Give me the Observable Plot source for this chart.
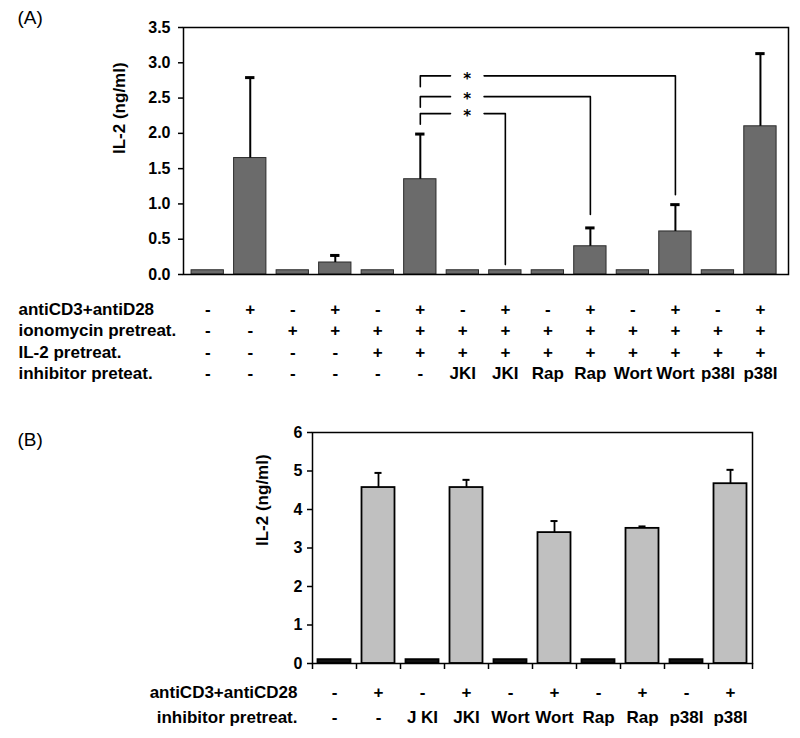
<!DOCTYPE html>
<html>
<head>
<meta charset="utf-8">
<script src="https://cdn.jsdelivr.net/npm/d3@7"></script>
<script src="https://cdn.jsdelivr.net/npm/@observablehq/plot@0.6"></script>
<style>
  html, body { margin: 0; padding: 0; background: #fff; }
  #chart svg { display: block; }
</style>
</head>
<body>
<div id="chart"></div>
<script>
// ---------- Panel A data ----------
const rowNamesA = ["antiCD3+antiD28", "ionomycin pretreat.", "IL-2 pretreat.", "inhibitor preteat."];
const antiCD3A = ["-","+","-","+","-","+","-","+","-","+","-","+","-","+"];
const ionoA    = ["-","-","+","+","+","+","+","+","+","+","+","+","+","+"];
const il2A     = ["-","-","-","-","+","+","+","+","+","+","+","+","+","+"];
const inhibA   = ["-","-","-","-","-","-","JKI","JKI","Rap","Rap","Wort","Wort","p38I","p38I"];
const valuesA  = [0.06, 1.65, 0.06, 0.17, 0.06, 1.35, 0.06, 0.06, 0.06, 0.40, 0.06, 0.61, 0.06, 2.10];
const errA     = [0, 1.14, 0, 0.10, 0, 0.64, 0, 0, 0, 0.26, 0, 0.38, 0, 1.03];
const yTicksA  = [0, 0.5, 1.0, 1.5, 2.0, 2.5, 3.0, 3.5];
// significance brackets (bar index from -> bar index to)
const sigFrom    = [5, 5, 5];
const sigTo      = [7, 9, 11];
const sigLevel   = [2.28, 2.52, 2.815];
const sigFromEnd = [2.13, 2.37, 2.66];
const sigToEnd   = [0.14, 0.85, 1.13];
const sigLabel   = ["*", "*", "*"];

// ---------- Panel B data ----------
const rowNamesB = ["antiCD3+antiCD28", "inhibitor pretreat."];
const antiCD3B = ["-","+","-","+","-","+","-","+","-","+"];
const inhibB   = ["-","-","J KI","JKI","Wort","Wort","Rap","Rap","p38I","p38I"];
const valuesB  = [0.1, 4.57, 0.1, 4.57, 0.1, 3.40, 0.1, 3.51, 0.1, 4.67];
const errB     = [0, 0.38, 0, 0.20, 0, 0.30, 0, 0.05, 0, 0.36];
const yTicksB  = [0, 1, 2, 3, 4, 5, 6];

const FONT = "'Liberation Sans', Arial, Helvetica, sans-serif";

// ---------- Panel A ----------
const barsA = valuesA.map((v, i) => ({i, v, e: errA[i]}));
const colsA = antiCD3A.map((d, i) => ({i, r: [antiCD3A[i], ionoA[i], il2A[i], inhibA[i]]}));
const halfA = 0.38;
const starX = 6.1, gapL = 5.71, gapR = 6.5;
const bracketPts = [];
sigFrom.forEach((f, k) => {
  bracketPts.push({k: k + "a", x: f, y: sigFromEnd[k]});
  bracketPts.push({k: k + "a", x: f, y: sigLevel[k]});
  bracketPts.push({k: k + "a", x: gapL, y: sigLevel[k]});
  bracketPts.push({k: k + "b", x: gapR, y: sigLevel[k]});
  bracketPts.push({k: k + "b", x: sigTo[k], y: sigLevel[k]});
  bracketPts.push({k: k + "b", x: sigTo[k], y: sigToEnd[k]});
});
const stars = sigLevel.map((l, k) => ({y: l, t: sigLabel[k]}));
const rowOffsetsA = [40, 61, 83, 104];

const plotA = Plot.plot({
  width: 800, height: 395,
  marginTop: 27, marginLeft: 183, marginRight: 12, marginBottom: 121,
  style: {fontFamily: FONT, fontSize: "16px", fontWeight: "bold", color: "black", background: "white"},
  x: {domain: [-0.57, 13.66], axis: null},
  y: {domain: [0, 3.5], axis: null},
  marks: [
    Plot.rect(barsA, {x1: d => d.i - halfA, x2: d => d.i + halfA, y1: 0, y2: "v", fill: "#6b6b6b", stroke: "#2b2b2b", strokeWidth: 1}),
    Plot.ruleX(barsA.filter(d => d.e > 0), {x: "i", y1: "v", y2: d => d.v + d.e, stroke: "black", strokeWidth: 2}),
    Plot.ruleY(barsA.filter(d => d.e > 0), {x1: d => d.i - 0.11, x2: d => d.i + 0.11, y: d => d.v + d.e, stroke: "black", strokeWidth: 3}),
    Plot.line(bracketPts, {x: "x", y: "y", z: "k", stroke: "black", strokeWidth: 1.6}),
    Plot.text(stars, {x: starX, y: "y", text: "t", fontSize: 15, fontFamily: "'DejaVu Sans', sans-serif", fontWeight: "bold", dy: 3}),
    Plot.frame({stroke: "black", strokeWidth: 1.5}),
    Plot.axisY({ticks: yTicksA, tickFormat: d3.format(".1f"), tickSize: 5, tickPadding: 8, strokeWidth: 1.5, label: null}),
    Plot.text(["IL-2 (ng/ml)"], {frameAnchor: "left", rotate: -90, dx: -59, dy: 3, lineAnchor: "bottom", fontSize: 17, fontWeight: "bold"}),
    // treatment table
    ...rowOffsetsA.map((off, r) => Plot.text(colsA, {x: "i", text: d => d.r[r], frameAnchor: "bottom", lineAnchor: "bottom", dy: off, fontSize: 17, fontWeight: "bold"})),
    ...rowOffsetsA.map((off, r) => Plot.text([rowNamesA[r]], {frameAnchor: "bottom-left", textAnchor: "start", lineAnchor: "bottom", dx: -165, dy: off, fontSize: 17, fontWeight: "bold"})),
    Plot.text(["(A)"], {frameAnchor: "top-left", textAnchor: "start", lineAnchor: "bottom", dx: -166, dy: -4, fontSize: 19, fontWeight: "normal"})
  ]
});

// ---------- Panel B ----------
const barsB = valuesB.map((v, i) => ({i, v, e: errB[i], on: antiCD3B[i] === "+"}));
const colsB = antiCD3B.map((d, i) => ({i, r: [antiCD3B[i], inhibB[i]]}));
const halfB = 0.375;
const rowOffsetsB = [34, 59];
const xTicksB = d3.range(antiCD3B.length + 1);

const plotB = Plot.plot({
  width: 800, height: 343,
  marginTop: 37, marginLeft: 312, marginRight: 48, marginBottom: 75,
  style: {fontFamily: FONT, fontSize: "16px", fontWeight: "bold", color: "black", background: "white"},
  x: {domain: [0, antiCD3B.length], axis: null},
  y: {domain: [0, 6], axis: null},
  marks: [
    Plot.rect(barsB, {x1: d => d.i + 0.5 - halfB, x2: d => d.i + 0.5 + halfB, y1: 0, y2: "v", fill: d => d.on ? "#c0c0c0" : "#111", stroke: "black", strokeWidth: 1.8}),
    Plot.ruleX(barsB.filter(d => d.e > 0), {x: d => d.i + 0.5, y1: "v", y2: d => d.v + d.e, stroke: "black", strokeWidth: 1.8}),
    Plot.ruleY(barsB.filter(d => d.e > 0), {x1: d => d.i + 0.5 - 0.08, x2: d => d.i + 0.5 + 0.08, y: d => d.v + d.e, stroke: "black", strokeWidth: 2}),
    Plot.frame({stroke: "black", strokeWidth: 1.5}),
    Plot.axisY({ticks: yTicksB, tickFormat: d => d, tickSize: 5, tickPadding: 5, strokeWidth: 1.5, label: null}),
    Plot.axisX({ticks: xTicksB, tickFormat: () => "", tickSize: 6, strokeWidth: 1.5, label: null}),
    Plot.text(["IL-2 (ng/ml)"], {frameAnchor: "left", rotate: -90, dx: -45, dy: -2, lineAnchor: "bottom", fontSize: 17, fontWeight: "bold"}),
    ...rowOffsetsB.map((off, r) => Plot.text(colsB, {x: d => d.i + 0.5, text: d => d.r[r], frameAnchor: "bottom", lineAnchor: "bottom", dy: off, fontSize: 17, fontWeight: "bold"})),
    ...rowOffsetsB.map((off, r) => Plot.text([rowNamesB[r]], {frameAnchor: "bottom-left", textAnchor: "end", lineAnchor: "bottom", dx: -15, dy: off, fontSize: 17, fontWeight: "bold"})),
    Plot.text(["(B)"], {frameAnchor: "top-left", textAnchor: "start", lineAnchor: "bottom", dx: -295, dy: 13, fontSize: 19, fontWeight: "normal"})
  ]
});

const chart = document.getElementById("chart");
chart.appendChild(plotA);
chart.appendChild(plotB);
</script>
</body>
</html>
